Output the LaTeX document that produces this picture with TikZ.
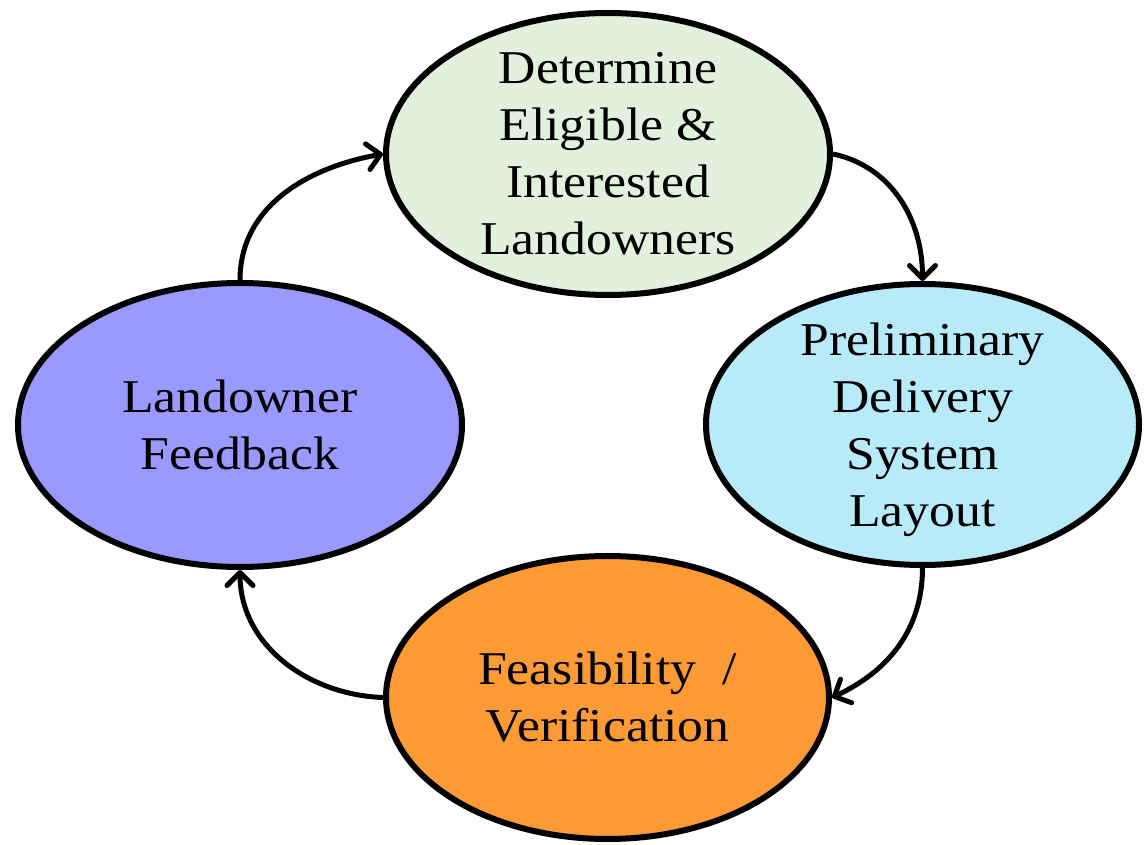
\documentclass[tikz,border=0pt]{standalone}
\usepackage{fontspec}
\setmainfont{Liberation Serif}[FakeStretch=1.1]
\usetikzlibrary{shapes.geometric,arrows.meta}
\definecolor{cgreen}{HTML}{E2F0DE}
\definecolor{ccyan}{HTML}{B7EBFA}
\definecolor{corange}{HTML}{FC9A35}
\definecolor{cviolet}{HTML}{9999FF}
\begin{document}
\begin{tikzpicture}[x=1pt,y=1pt,
  blob/.style={ellipse, draw=black, line width=6pt, inner sep=0pt},
  lbl/.style={align=center, font=\fontsize{47}{57}\selectfont, inner sep=0pt},
  flow/.style={line width=5pt, -{Straight Barb[length=13pt,width=26pt,line cap=round,line join=round]}}]
\useasboundingbox (0,0) rectangle (1144,844);
\node[blob, fill=cgreen, minimum width=444pt, minimum height=282pt] (T) at (608,690) {};
\node[blob, fill=ccyan, minimum width=433pt, minimum height=281pt] (R) at (922.5,419.5) {};
\node[blob, fill=corange, minimum width=443pt, minimum height=283pt] (B) at (607.5,146.5) {};
\node[blob, fill=cviolet, minimum width=444pt, minimum height=284pt] (L) at (240,419) {};
\node[lbl] (Tt) at (T.center) {Determine\\Eligible \&\\Interested\\Landowners};
\node[lbl, yshift=-5pt] (Rt) at (R.center) {Preliminary\\Delivery\\System\\Layout};
\node[lbl] (Bt) at (B.center) {Feasibility\ \ /\\Verification};
\node[lbl] (Lt) at (L.center) {Landowner\\Feedback};
\draw[flow] (L.north) to[out=90,in=190] (T.west);
\draw[flow] (T.east) to[out=-12,in=90] (R.north);
\draw[flow] (R.south) to[out=-90,in=25] (B.east);
\draw[flow] (B.west) to[out=178,in=-90] (L.south);
\end{tikzpicture}
\end{document}
